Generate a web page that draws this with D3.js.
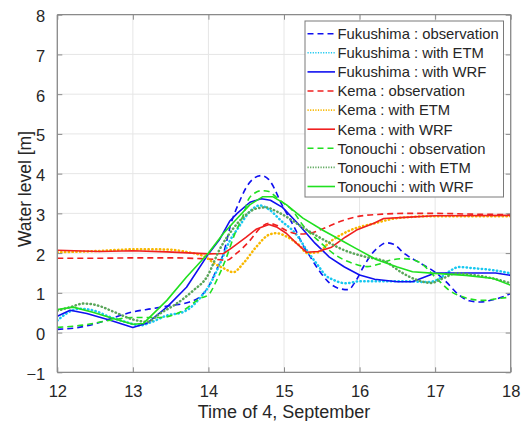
<!DOCTYPE html>
<html><head><meta charset="utf-8">
<script src="https://cdn.jsdelivr.net/npm/d3@7"></script>
<style>
html,body{margin:0;padding:0;background:#fff;}
text{font-family:"Liberation Sans",Arial,Helvetica,sans-serif;}
</style></head>
<body><svg id="c" width="528" height="421"></svg>
<script>
// ---- data: [time (hour of 4 Sept), water level (m)] ----
const fukushimaObs = [[12.0,0.08],[12.25,0.12],[12.5,0.22],[12.75,0.38],[13.0,0.52],[13.25,0.6],[13.5,0.68],[13.75,0.77],[13.9,0.92],[14.0,1.15],[14.1,1.55],[14.2,2.0],[14.3,2.75],[14.4,3.25],[14.5,3.65],[14.6,3.88],[14.7,3.95],[14.8,3.85],[14.88,3.6],[14.95,3.3],[15.05,2.95],[15.15,2.6],[15.25,2.2],[15.35,1.9],[15.45,1.6],[15.6,1.25],[15.75,1.1],[15.85,1.08],[15.95,1.3],[16.05,1.65],[16.15,1.95],[16.25,2.15],[16.35,2.26],[16.45,2.22],[16.6,1.98],[16.8,1.75],[17.0,1.52],[17.15,1.27],[17.3,0.97],[17.45,0.8],[17.6,0.77],[17.75,0.82],[17.9,0.9],[18.0,0.98]];
const fukushimaETM = [[12.0,0.3],[12.12,0.48],[12.3,0.6],[12.47,0.56],[12.7,0.39],[12.92,0.26],[13.1,0.18],[13.23,0.25],[13.45,0.43],[13.67,0.52],[13.8,0.69],[13.9,0.9],[14.0,1.15],[14.15,1.72],[14.28,2.3],[14.4,2.65],[14.55,3.05],[14.68,3.2],[14.8,3.1],[14.97,2.8],[15.15,2.5],[15.32,2.02],[15.45,1.69],[15.55,1.44],[15.65,1.33],[15.82,1.24],[16.0,1.29],[16.3,1.29],[16.62,1.29],[16.9,1.27],[17.05,1.35],[17.15,1.49],[17.32,1.65],[17.5,1.62],[17.77,1.57],[18.0,1.49]];
const fukushimaWRF = [[12.0,0.41],[12.17,0.56],[12.39,0.48],[12.7,0.31],[13.0,0.13],[13.19,0.24],[13.45,0.64],[13.71,1.14],[14.0,1.98],[14.15,2.35],[14.28,2.8],[14.38,3.0],[14.55,3.28],[14.7,3.37],[14.82,3.33],[14.98,3.15],[15.18,2.75],[15.41,2.25],[15.6,1.9],[15.8,1.65],[16.0,1.45],[16.2,1.34],[16.5,1.28],[16.7,1.28],[17.0,1.5],[17.5,1.5],[17.8,1.5],[18.0,1.44]];
const kemaObs = [[12.0,1.87],[12.5,1.87],[13.0,1.88],[13.5,1.88],[13.9,1.86],[14.1,1.84],[14.24,1.82],[14.37,1.99],[14.55,2.32],[14.68,2.62],[14.8,2.75],[14.9,2.7],[15.05,2.55],[15.2,2.48],[15.35,2.5],[15.5,2.6],[15.75,2.8],[16.0,2.93],[16.3,2.98],[16.6,3.0],[17.0,3.0],[17.5,2.98],[18.0,2.97]];
const kemaETM = [[12.0,2.02],[12.5,2.05],[13.1,2.1],[13.45,2.09],[13.71,2.03],[13.98,1.88],[14.07,1.75],[14.2,1.62],[14.33,1.52],[14.46,1.74],[14.63,2.15],[14.81,2.47],[14.9,2.5],[15.03,2.42],[15.2,2.2],[15.31,2.0],[15.45,2.02],[15.6,2.27],[15.87,2.57],[16.2,2.75],[16.5,2.88],[17.0,2.93],[18.0,2.93]];
const kemaWRF = [[12.0,2.07],[12.56,2.04],[13.0,2.06],[13.45,2.03],[13.8,2.0],[14.0,1.98],[14.2,1.99],[14.3,2.12],[14.5,2.4],[14.63,2.6],[14.8,2.72],[14.9,2.66],[15.03,2.5],[15.17,2.24],[15.3,2.02],[15.45,2.04],[15.63,2.15],[15.81,2.4],[15.96,2.58],[16.19,2.75],[16.32,2.87],[16.6,2.9],[17.0,2.94],[18.0,2.95]];
const tonouchiObs = [[12.0,0.13],[12.35,0.19],[12.7,0.31],[13.0,0.38],[13.36,0.38],[13.67,0.56],[13.89,0.86],[14.0,0.95],[14.11,1.32],[14.24,1.9],[14.35,2.49],[14.46,2.95],[14.53,3.35],[14.62,3.52],[14.7,3.57],[14.8,3.55],[14.9,3.4],[15.0,3.25],[15.1,3.1],[15.25,2.7],[15.48,2.27],[15.69,1.94],[15.9,1.75],[16.1,1.66],[16.25,1.72],[16.4,1.82],[16.6,1.86],[16.79,1.77],[17.02,1.36],[17.19,1.06],[17.41,0.87],[17.63,0.81],[17.85,0.86],[18.0,0.89]];
const tonouchiETM = [[12.0,0.55],[12.17,0.64],[12.35,0.73],[12.52,0.69],[12.75,0.52],[13.0,0.33],[13.19,0.27],[13.36,0.48],[13.58,0.73],[13.8,1.06],[13.98,1.4],[14.15,2.1],[14.32,2.6],[14.46,2.9],[14.63,3.12],[14.76,3.15],[14.9,3.05],[15.0,2.95],[15.27,2.62],[15.54,2.32],[15.8,2.07],[16.05,1.92],[16.35,1.78],[16.55,1.52],[16.75,1.33],[16.95,1.25],[17.1,1.36],[17.28,1.49],[17.5,1.45],[17.77,1.36],[18.0,1.24]];
const tonouchiWRF = [[12.0,0.58],[12.21,0.64],[12.47,0.51],[12.75,0.35],[13.0,0.21],[13.14,0.23],[13.45,0.81],[13.71,1.4],[14.0,2.0],[14.2,2.5],[14.37,2.85],[14.55,3.22],[14.72,3.42],[14.85,3.42],[15.03,3.22],[15.25,2.88],[15.52,2.57],[15.78,2.3],[15.95,2.12],[16.22,1.84],[16.5,1.65],[16.7,1.53],[17.0,1.49],[17.41,1.44],[17.77,1.36],[18.0,1.19]];

const seriesNames = ["Fukushima : observation","Fukushima : with ETM","Fukushima : with WRF","Kema : observation","Kema : with ETM","Kema : with WRF","Tonouchi : observation","Tonouchi : with ETM","Tonouchi : with WRF"];
const seriesData = [fukushimaObs,fukushimaETM,fukushimaWRF,kemaObs,kemaETM,kemaWRF,tonouchiObs,tonouchiETM,tonouchiWRF];
const xTicks = [12,13,14,15,16,17,18];
const yTicks = [-1,0,1,2,3,4,5,6,7,8];
const xLabel = "Time of 4, September";
const yLabel = "Water level [m]";

// ---- styles ----
const colors = ["#1010f0","#18c8f0","#1010f0","#f02020","#f8b800","#f02020","#20e020","#5aa65a","#20e020"];
const kinds = ["obs","etm","wrf","obs","etm","wrf","obs","etm","wrf"];
const styleOf = k => k==="obs" ? {w:1.6,d:"6,4",cap:"butt"} : k==="etm" ? {w:2.5,d:"0.4,3.4",cap:"round"} : {w:1.6,d:null,cap:"butt"};

const svg = d3.select("#c");
const L=57.3, R=510.7, T=14.7, B=372.3;
const x = d3.scaleLinear().domain([12,18]).range([L,R]);
const y = d3.scaleLinear().domain([-1,8]).range([B,T]);

// grid
const g = svg.append("g");
g.selectAll("line.gx").data(xTicks).join("line").attr("class","gx")
  .attr("x1",d=>x(d)).attr("x2",d=>x(d)).attr("y1",T).attr("y2",B)
  .attr("stroke","#e6e6e6").attr("stroke-width",1);
g.selectAll("line.gy").data(yTicks).join("line").attr("class","gy")
  .attr("y1",d=>y(d)).attr("y2",d=>y(d)).attr("x1",L).attr("x2",R)
  .attr("stroke","#e6e6e6").attr("stroke-width",1);

// lines
svg.append("clipPath").attr("id","clp").append("rect")
  .attr("x",L).attr("y",T).attr("width",R-L).attr("height",B-T);
const lines = svg.append("g").attr("clip-path","url(#clp)");
seriesData.forEach((data,i)=>{
  const st = styleOf(kinds[i]);
  const gen = d3.line().x(d=>x(d[0])).y(d=>y(d[1]))
    .curve(kinds[i]==="wrf" ? d3.curveLinear : d3.curveMonotoneX);
  lines.append("path").datum(data).attr("d",gen)
    .attr("fill","none").attr("stroke",colors[i]).attr("stroke-width",st.w)
    .attr("stroke-dasharray",st.d).attr("stroke-linecap",st.cap)
    .attr("stroke-linejoin","round");
});

// axes (box, inward ticks)
const axCol = "#8a8a8a", txtCol = "#262626";
const tl = 5;
const axG = svg.append("g");
const axBottom = d3.axisBottom(x).tickValues(xTicks).tickSize(-tl).tickPadding(13).tickFormat(d3.format("d"));
const axTop = d3.axisTop(x).tickValues(xTicks).tickSize(-tl).tickFormat("");
const axLeft = d3.axisLeft(y).tickValues(yTicks).tickSize(-tl).tickPadding(12).tickFormat(d3.format("d"));
const axRight = d3.axisRight(y).tickValues(yTicks).tickSize(-tl).tickFormat("");
function styleAx(sel){
  sel.select(".domain").attr("stroke",axCol).attr("stroke-width",1.3);
  sel.selectAll(".tick line").attr("stroke",axCol).attr("stroke-width",1);
  sel.selectAll(".tick text").attr("fill",txtCol).attr("font-size",16.5)
     .attr("font-family","'Liberation Sans',Arial,sans-serif");
}
axG.append("g").attr("transform",`translate(0,${B})`).call(axBottom).call(s=>{s.select(".domain").attr("d",`M${L},0H${R}`);styleAx(s);});
axG.append("g").attr("transform",`translate(0,${T})`).call(axTop).call(s=>{s.select(".domain").attr("d",`M${L},0H${R}`);styleAx(s);});
axG.append("g").attr("transform",`translate(${L},0)`).call(axLeft).call(s=>{s.select(".domain").attr("d",`M0,${B}V${T}`);styleAx(s);s.selectAll(".tick text").attr("dy","0.42em");});
axG.append("g").attr("transform",`translate(${R},0)`).call(axRight).call(s=>{s.select(".domain").attr("d",`M0,${B}V${T}`);styleAx(s);});

// axis labels
svg.append("text").attr("x",(L+R)/2).attr("y",418).attr("text-anchor","middle")
  .attr("font-size",18).attr("fill",txtCol).text(xLabel);
svg.append("text").attr("transform","translate(31,189) rotate(-90)").attr("text-anchor","middle")
  .attr("font-size",17.5).attr("fill",txtCol).text(yLabel);

// legend
const lgX0=305, lgY0=21, lgW=198.5, lgH=176, rowY0=33.7, rowH=19.1;
const lg = svg.append("g");
lg.append("rect").attr("x",lgX0).attr("y",lgY0).attr("width",lgW).attr("height",lgH)
  .attr("fill","#fff").attr("stroke","#7a7a7a").attr("stroke-width",1);
seriesNames.forEach((nm,i)=>{
  const st = styleOf(kinds[i]);
  const yy = rowY0 + i*rowH;
  lg.append("line").attr("x1",307.5).attr("x2",335).attr("y1",yy).attr("y2",yy)
    .attr("stroke",colors[i]).attr("stroke-width",kinds[i]==="etm"?1.6:st.w)
    .attr("stroke-dasharray",kinds[i]==="etm"?"1.2,1.4":st.d);
  lg.append("text").attr("x",337.5).attr("y",yy).attr("dy","0.36em")
    .attr("font-size",14.8).attr("fill",txtCol).text(nm);
});
</script></body></html>
